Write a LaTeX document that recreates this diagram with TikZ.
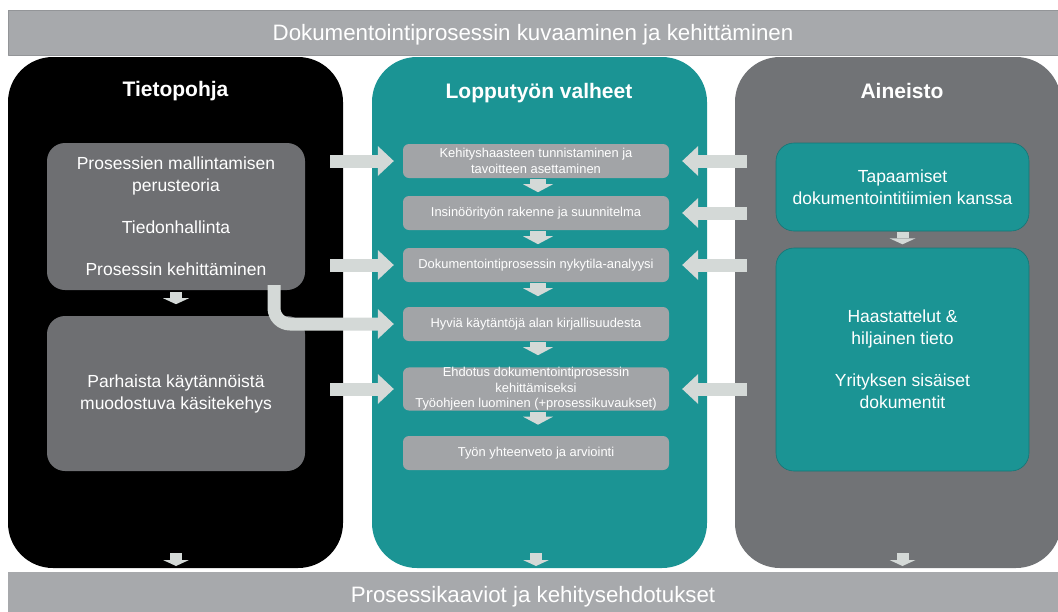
\documentclass[tikz,border=0pt]{standalone}
\usepackage{fontspec}
\setmainfont{Liberation Sans}
\usetikzlibrary{arrows.meta}

\begin{document}
\begin{tikzpicture}[x=1pt, y=-1pt, line join=round,
    panel/.style={rounded corners=45pt, minimum height=511pt, inner sep=0pt},
    banner/.style={fill=bannergray, draw=bannerline, line width=0.6pt, minimum width=1050pt,
        inner sep=0pt, text=white, text height=16pt, text depth=0pt,
        font=\fontsize{22.3}{26}\selectfont},
    title/.style={text=white, font=\fontsize{21}{25}\selectfont\bfseries},
    gbox/.style={fill=boxgray, rounded corners=18pt, minimum width=258pt, inner sep=0pt,
        text=white, align=center, font=\fontsize{17.5}{22}\selectfont},
    tbox/.style={gbox, fill=tealc, draw=tealedge, line width=0.6pt, minimum width=253pt},
    stepbox/.style={fill=stepgray, rounded corners=6pt, minimum width=266pt, minimum height=34pt,
        inner sep=0pt, text=white, align=center, font=\fontsize{12.9}{15.5}\selectfont},
    blockarrow/.style={arrowc, line width=13pt, -{Triangle[length=16pt, width=30pt, line width=0pt]}},
    steparrow/.style={arrowc, line width=16pt, -{Triangle[length=8pt, width=30pt, line width=0pt]}},
    downarrow/.style={arrowc, line width=12pt, -{Triangle[length=6pt, width=26pt, line width=0pt]}}
]

    % --- Colors ---
    \definecolor{bannergray}{RGB}{167, 169, 172}
    \definecolor{bannerline}{RGB}{147, 149, 152}
    \definecolor{tealc}{RGB}{27, 148, 148}
    \definecolor{tealedge}{RGB}{20, 118, 118}
    \definecolor{panelgray}{RGB}{113, 115, 118}
    \definecolor{boxgray}{RGB}{110, 111, 114}
    \definecolor{stepgray}{RGB}{162, 164, 167}
    \definecolor{arrowc}{RGB}{212, 217, 215}

    \useasboundingbox (0,0) rectangle (1058,611);

    % --- Banners ---
    \node[banner, minimum height=45pt] (tbanner) at (533,32.5)
        {Dokumentointiprosessin kuvaaminen ja kehittäminen};
    \node[banner, minimum height=44pt, draw=none] (bbanner) at (533,594)
        {Prosessikaaviot ja kehitysehdotukset};

    % --- Panels ---
    \node[panel, fill=black, minimum width=335pt] (lpanel) at (175.5,312.5) {};
    \node[panel, fill=tealc, minimum width=335pt] (mpanel) at (539.5,312.5) {};
    \node[panel, fill=panelgray, minimum width=326pt] (rpanel) at (898,312.5) {};

    \node[title] (ltitle) at (175.5,91) {Tietopohja};
    \node[title] (mtitle) at (539,93) {Lopputyön valheet};
    \node[title] (rtitle) at (902,91) {Aineisto};

    % --- Left boxes ---
    \node[gbox, minimum height=147pt] (kb1) at (176,216.5)
        {Prosessien mallintamisen\\perusteoria\\[20pt]Tiedonhallinta\\[20pt]Prosessin kehittäminen};
    \node[gbox, minimum height=155pt] (kb2) at (176,393.5)
        {Parhaista käytännöistä\\muodostuva käsitekehys};

    % --- Steps ---
    \node[stepbox] (s1) at (536,161) {Kehityshaasteen tunnistaminen ja\\tavoitteen asettaminen};
    \node[stepbox] (s2) at (536,213) {Insinöörityön rakenne ja suunnitelma};
    \node[stepbox] (s3) at (536,265) {Dokumentointiprosessin nykytila-analyysi};
    \node[stepbox] (s4) at (536,324) {Hyviä käytäntöjä alan kirjallisuudesta};
    \node[stepbox, minimum height=42pt] (s5) at (536,389)
        {Ehdotus dokumentointiprosessin\\kehittämiseksi\\Työohjeen luominen (+prosessikuvaukset)};
    \node[stepbox] (s6) at (536,453) {Työn yhteenveto ja arviointi};

    % --- Right boxes ---
    \node[tbox, minimum height=88pt] (rb1) at (902.5,187)
        {Tapaamiset\\dokumentointitiimien kanssa};
    \node[tbox, minimum height=223pt] (rb2) at (902.5,359.5)
        {Haastattelut \&\\hiljainen tieto\\[20pt]Yrityksen sisäiset\\dokumentit};

    % --- Arrows ---
    \coordinate (lstart) at ([xshift=-13pt]lpanel.east);
    \coordinate (rstart) at ([xshift=12pt]rpanel.west);
    \coordinate (arrowrow) at (0,553);

    \foreach \s in {s1, s3, s5} {
        \draw[blockarrow] (lstart |- \s.west) -- ([xshift=-9pt]\s.west);
    }
    \foreach \s in {s1, s2, s3, s5} {
        \draw[blockarrow] (rstart |- \s.east) -- ([xshift=13pt]\s.east);
    }
    \draw[blockarrow, rounded corners=16pt] ([xshift=98pt,yshift=5pt]kb1.south) |- ([xshift=-9pt]s4.west);

    \foreach \a in {s1, s2, s3, s4, s5} {
        \draw[steparrow] ([xshift=2pt,yshift=-1pt]\a.south) -- ++(0,13);
    }
    \draw[downarrow] ([yshift=-2pt]kb1.south) -- ++(0,12);
    \draw[downarrow] ([yshift=-1pt]rb1.south) -- ++(0,12);
    \foreach \b in {kb2, s6, rb2} {
        \draw[downarrow] (\b.south |- arrowrow) -- ++(0,13);
    }

\end{tikzpicture}
\end{document}
